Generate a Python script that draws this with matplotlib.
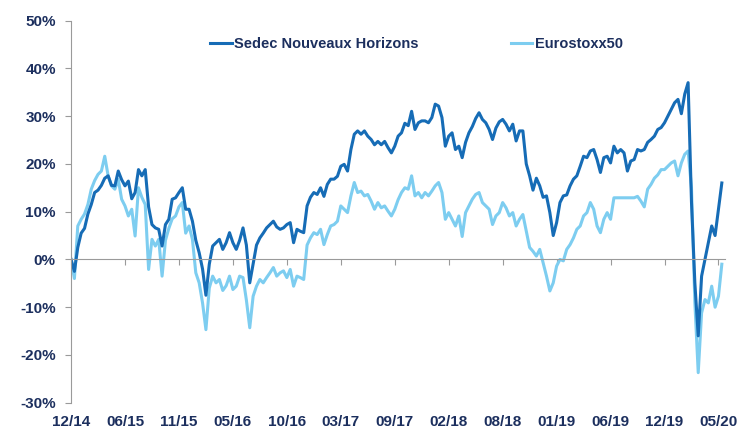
import matplotlib.pyplot as plt
from matplotlib.ticker import FuncFormatter

# performance since 12/14, in %, one value every ~1/16 of a label step
sedec = [
    0, -2.5, 2.5, 5.5, 6.5, 9.5, 11.5, 14, 14.5, 15.5, 17, 17.5, 15.5, 15.4, 18.5, 16.7,
    15.4, 16.4, 12.7, 14, 18.8, 17.5, 18.8, 11, 7.3, 6.6, 6.3, 2.8, 7.3, 8.4, 12.6, 12.9,
    14, 15, 10.5, 10.5, 8, 4, 1.4, -2, -7.5, -1, 2.8, 3.5, 4.2, 2.1, 3.5, 5.6,
    3.5, 2.1, 4, 6.6, 3, -4.9, -1, 3, 4.5, 5.5, 6.6, 7.3, 8, 6.8, 6.3, 6.6,
    7.3, 7.7, 3.5, 6.3, 5.9, 5.6, 11.2, 13, 14, 13.6, 15, 13.2, 15.7, 16.8, 16.8, 17.4,
    19.5, 19.9, 18.5, 23, 26.2, 26.9, 26.2, 26.9, 25.8, 25.1, 24, 24.7, 24, 24.7, 23.4, 22.3,
    23.7, 25.8, 26.5, 28.5, 28, 31, 27.2, 28.6, 29, 29, 28.6, 29.7, 32.5, 32.1, 29.7, 23.7,
    25.8, 26.5, 23, 23.7, 21.3, 24.5, 26.5, 27.8, 29.5, 30.7, 29.3, 28.6, 27.2, 25.1, 27.5, 28.8,
    29.3, 28.3, 26.9, 28.3, 24.8, 26.9, 26.9, 20, 17.5, 14.5, 17, 15.4, 13, 13.3, 9.8, 5,
    7.7, 11.9, 13.3, 13.5, 15.4, 16.8, 17.5, 19.5, 21.6, 21.3, 22.7, 23, 20.9, 18.2, 21.3, 21.6,
    20.2, 23.7, 22.3, 23, 22.3, 18.5, 20.6, 20.9, 23, 22.7, 23, 24.5, 25.1, 25.8, 27.2, 27.6,
    28.6, 30, 31.4, 32.8, 33.5, 30.5, 34.6, 37, 12, -4.9, -16, -3.5, 0, 3.5, 7, 5,
    10.5, 16,
]

eurostoxx = [
    0, -4, 7, 8.4, 9.5, 11.5, 14.7, 16.5, 17.8, 18.5, 21.6, 17.5, 15.4, 14.7, 16.8, 12.6,
    11.2, 9.1, 10.5, 4.9, 15, 13, 11.5, -2.1, 4.2, 2.8, 4.2, -3.5, 4, 6.5, 8.5, 9.1,
    11, 11.9, 5.5, 7, 4.2, -2.8, -4.9, -9.1, -14.7, -6, -3.5, -4.9, -4.2, -6.5, -5.5, -3.5,
    -6.3, -5.6, -3.5, -3.8, -8.5, -14.3, -7.7, -5.6, -4.2, -4.9, -3.8, -2.8, -1.7, -3.5, -2.8, -2.4,
    -3.8, -2.1, -5.6, -3.5, -3.8, -4.2, 3, 4.5, 5.6, 5.2, 6.3, 3.1, 5.2, 7, 7.3, 8,
    11.2, 10.5, 9.8, 13.3, 16.1, 14, 14.3, 13.3, 13.6, 12.2, 10.5, 11.9, 10.8, 11.2, 10.1, 9.1,
    10.5, 12.5, 14, 15, 14.7, 17.5, 13.3, 14, 12.9, 14, 13.3, 14.3, 15.4, 16.1, 14, 8.4,
    9.8, 8.4, 7, 9.1, 4.8, 9.8, 11.2, 12.6, 13.6, 14, 11.9, 11.2, 10.5, 7.3, 9.1, 9.8,
    11.9, 10.8, 9.1, 9.8, 7, 8.4, 9.4, 6, 2.5, 1.7, 0.7, 2.1, -0.7, -3.5, -6.6, -4.9,
    -1.4, 0, -0.3, 2.1, 3.1, 4.5, 6.3, 7, 9.1, 9.8, 11.9, 10.5, 7, 5.6, 8.4, 9.8,
    8.4, 12.9, 12.9, 12.9, 12.9, 12.9, 12.9, 12.9, 13.2, 12.2, 11, 14.7, 15.7, 17, 17.7, 18.8,
    18.8, 19.5, 20.2, 20.6, 17.5, 20.2, 22, 22.7, 15, -9, -23.7, -11.2, -8.4, -9.1, -5.6, -10,
    -7.7, -1,
]

date_labels = ['12/14', '06/15', '11/15', '05/16', '10/16', '03/17', '09/17',
               '02/18', '08/18', '01/19', '06/19', '12/19', '05/20']
points_per_label = 16

navy = '#1c2f5e'
dark_blue = '#166cb6'
light_blue = '#7dcdf0'
grey = '#9a9a9a'

plt.rcParams['font.family'] = ['Liberation Sans', 'DejaVu Sans']
plt.rcParams['font.weight'] = 'bold'

fig = plt.figure(figsize=(7.4, 4.28), dpi=100)
ax = fig.add_axes([0.096, 0.059, 0.884, 0.893])

l_euro, = ax.plot(range(len(eurostoxx)), eurostoxx, color=light_blue, lw=2.2, label='Eurostoxx50')
l_sedec, = ax.plot(range(len(sedec)), sedec, color=dark_blue, lw=2.2, label='Sedec Nouveaux Horizons')

ax.set_ylim(-30, 50)
ax.set_yticks(range(-30, 51, 10))
ax.yaxis.set_major_formatter(FuncFormatter(lambda v, _: '{:.0f}%'.format(v)))
ax.set_xlim(0, len(sedec))

# axis line crosses at 0, labels stay at the bottom
for s in ['top', 'right']:
    ax.spines[s].set_visible(False)
ax.spines['left'].set_color(grey)
ax.spines['bottom'].set_color(grey)
ax.spines['bottom'].set_position(('data', 0))

ticks = list(range(0, len(date_labels) * points_per_label, points_per_label))
ax.set_xticks(ticks)
ax.tick_params(axis='x', direction='out', length=4, color=grey, labelbottom=False)
ax.tick_params(axis='y', direction='out', length=4, color=grey, labelcolor=navy,
               labelsize=11, pad=7)

sec = ax.secondary_xaxis(0)
sec.set_xticks(ticks, labels=date_labels)
sec.tick_params(length=0, pad=9, labelsize=11, labelcolor=navy)
sec.spines['bottom'].set_visible(False)

leg = ax.legend(handles=[l_sedec, l_euro], ncol=2, loc='center',
                bbox_to_anchor=(0.528, 0.939), frameon=False,
                handlelength=1.5, handletextpad=0.15, columnspacing=6.3,
                prop={'size': 10.5, 'weight': 'bold'})
for t in leg.get_texts():
    t.set_color(navy)

fig.savefig('out.png', dpi=100)
